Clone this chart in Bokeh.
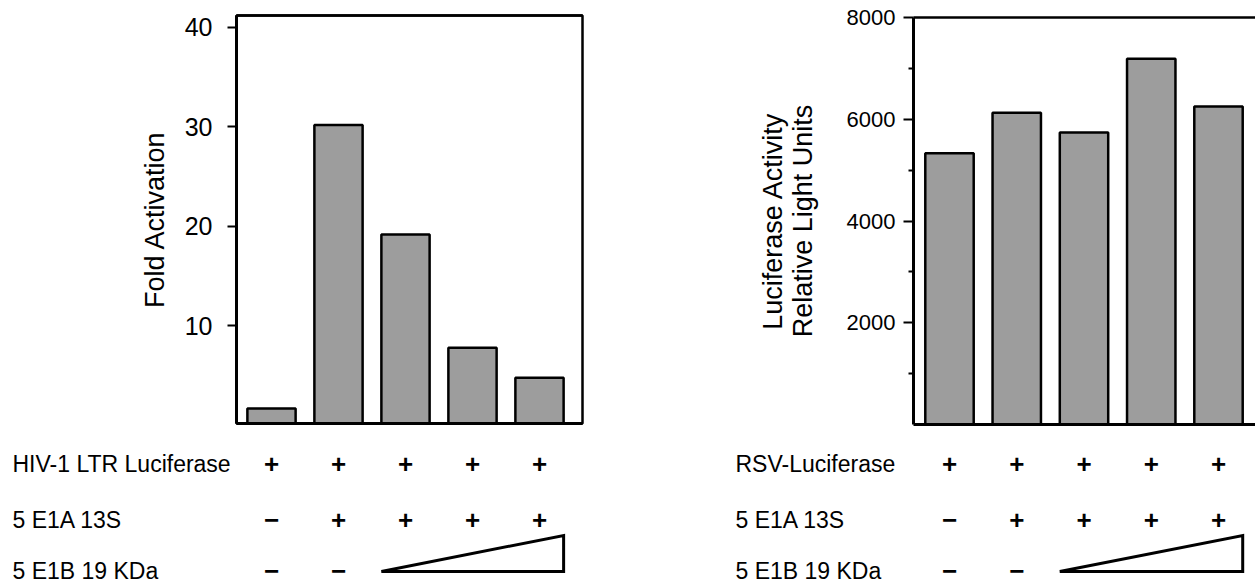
from bokeh.plotting import figure
from bokeh.models import Range1d, FixedTicker, LinearAxis, ColumnDataSource
from bokeh.layouts import row, column
from bokeh.embed import file_html
from bokeh.resources import INLINE
from bokeh.core.properties import value

# ---------------- data ----------------
lanes = [1, 2, 3, 4, 5]
fold_activation = [1.7, 30.2, 19.2, 7.8, 4.8]
luciferase_rlu = [5330, 6130, 5740, 7190, 6250]

left_ticks = [10, 20, 30, 40]
right_ticks = [2000, 4000, 6000, 8000]
right_minor_ticks = [1000, 3000, 5000, 7000]

left_label = "Fold Activation"
right_label = "Luciferase Activity\nRelative Light Units"

left_rows = ["HIV-1 LTR Luciferase", "5 E1A 13S", "5 E1B 19 KDa"]
right_rows = ["RSV-Luciferase", "5 E1A 13S", "5 E1B 19 KDa"]
reporter_signs = ["+", "+", "+", "+", "+"]
e1a_signs = ["\u2212", "+", "+", "+", "+"]
e1b_signs = ["\u2212", "\u2212", "", "", ""]

# ---------------- style / layout ----------------
FONT = "Liberation Sans"
BAR_W = 0.72
BAR_FILL = "#9d9d9d"
PANEL_H = 430
TABLE_H = 156
ROW_PX = [33, 89, 140]     # row centres, px from top of the table strip
WEDGE_H = 36               # px


def make_panel(width, px, frame_left, frame_right, frame_top, frame_bottom,
               lane1_px, yr, values, ticks, minor, label,
               tick_size, tick_standoff, tick_out, label_standoff, full_box):
    x0 = 1 - (lane1_px - frame_left) / px
    x1 = x0 + (frame_right - frame_left) / px
    p = figure(width=width, height=PANEL_H,
               x_range=Range1d(x0, x1), y_range=Range1d(*yr),
               x_axis_type=None, y_axis_type=None,
               output_backend="svg", toolbar_location=None,
               min_border_left=frame_left, min_border_right=width - frame_right,
               min_border_top=frame_top, min_border_bottom=PANEL_H - frame_bottom,
               background_fill_color="white", border_fill_color="white")
    p.frame_align = False
    p.vbar(x=lanes, top=values, bottom=0, width=BAR_W,
           fill_color=BAR_FILL, line_color="black", line_width=2.5)

    yaxis = LinearAxis(ticker=FixedTicker(ticks=ticks, minor_ticks=minor),
                       axis_label=label)
    yaxis.axis_line_width = 3
    yaxis.axis_line_color = "black"
    yaxis.major_tick_out = tick_out
    yaxis.major_tick_in = 0
    yaxis.major_tick_line_width = 2
    yaxis.minor_tick_out = 5
    yaxis.minor_tick_in = 0
    yaxis.minor_tick_line_width = 2
    yaxis.major_label_text_font = FONT
    yaxis.major_label_text_font_size = tick_size
    yaxis.major_label_text_color = "black"
    yaxis.major_label_standoff = tick_standoff
    yaxis.axis_label_text_font = FONT
    yaxis.axis_label_text_font_size = "27px"
    yaxis.axis_label_text_font_style = "normal"
    yaxis.axis_label_text_color = "black"
    yaxis.axis_label_text_line_height = 1.0
    yaxis.axis_label_standoff = label_standoff
    p.add_layout(yaxis, "left")

    for side in ["below", "above"]:
        ax = LinearAxis(ticker=FixedTicker(ticks=[]))
        ax.axis_line_width = 3 if side == "below" else 2.5
        ax.axis_line_color = "black"
        ax.major_tick_line_color = None
        ax.minor_tick_line_color = None
        ax.major_label_text_font_size = "0px"
        p.add_layout(ax, side)

    if full_box:
        p.outline_line_color = "black"
        p.outline_line_width = 2.5
        p.outline_line_alpha = 1.0
    else:
        p.outline_line_color = None
    return p


def make_table(width, px, lane1_px, label_px, rows):
    # lane scale identical to the panel above (px per lane)
    x0 = 1 - lane1_px / px
    x1 = x0 + width / px
    t = figure(width=width, height=TABLE_H,
               x_range=Range1d(x0, x1), y_range=Range1d(TABLE_H, 0),
               x_axis_type=None, y_axis_type=None,
               output_backend="svg", toolbar_location=None,
               min_border=0, min_border_left=0, min_border_right=0,
               min_border_top=0, min_border_bottom=0,
               outline_line_color=None,
               background_fill_color="white", border_fill_color="white")
    t.frame_align = False

    t.text(x=[x0 + label_px / px] * len(rows), y=ROW_PX, text=rows,
           text_font=value(FONT), text_font_size="23px", text_color="black",
           text_align="left", text_baseline="middle")

    xs, ys, ss = [], [], []
    for ri, signs in enumerate([reporter_signs, e1a_signs, e1b_signs]):
        for lane, s in zip(lanes, signs):
            if s:
                xs.append(lane)
                ys.append(ROW_PX[ri])
                ss.append(s)
    src = ColumnDataSource(dict(x=xs, y=ys, s=ss))
    t.text(x="x", y="y", text="s", source=src,
           text_font=value(FONT), text_font_size="26px",
           text_font_style="bold", text_color="black",
           text_align="center", text_baseline="middle")

    # increasing-dose wedge for E1B 19 KDa (lanes 3-5)
    lo = lanes[2] - BAR_W / 2
    hi = lanes[4] + BAR_W / 2
    base = ROW_PX[2] + 1
    t.patch(x=[lo, hi, hi], y=[base, base - WEDGE_H, base],
            fill_color="white", line_color="black", line_width=3,
            line_join="miter")
    return t


pL = make_panel(600, 67.0, 236, 582, 15, 423, 271, (0.2, 41.2),
                fold_activation, left_ticks, [], left_label,
                "25px", 15, 9, 12, True)
pR = make_panel(655, 67.25, 313, 655, 17, 424, 349, (0, 8000),
                luciferase_rlu, right_ticks, right_minor_ticks, right_label,
                "22px", 8, 10, 26, False)

tL = make_table(600, 67.0, 271, 12, left_rows)
tR = make_table(655, 67.25, 349, 135, right_rows)

layout = row(column(pL, tL), column(pR, tR))

open("out.html", "w").write(file_html(layout, INLINE))
